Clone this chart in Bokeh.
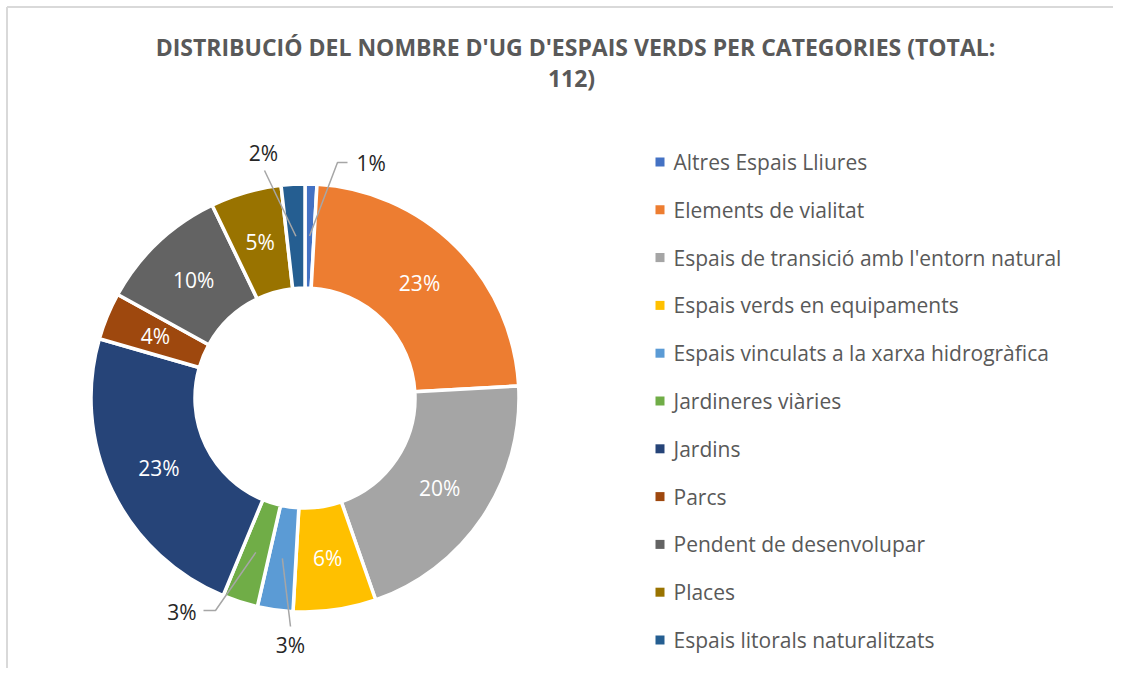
import numpy as np
from bokeh.plotting import figure
from bokeh.models import Range1d, ColumnDataSource
from bokeh.core.properties import value
from bokeh.embed import file_html
from bokeh.resources import INLINE

# ---------------- data ----------------
categories = [
    "Altres Espais Lliures",
    "Elements de vialitat",
    "Espais de transició amb l'entorn natural",
    "Espais verds en equipaments",
    "Espais vinculats a la xarxa hidrogràfica",
    "Jardineres viàries",
    "Jardins",
    "Parcs",
    "Pendent de desenvolupar",
    "Places",
    "Espais litorals naturalitzats",
]
counts = [1, 26, 23, 7, 3, 3, 26, 4, 11, 6, 2]
pct_labels = ["1%", "23%", "20%", "6%", "3%", "3%", "23%", "4%", "10%", "5%", "2%"]
colors = ["#4472C4", "#ED7D31", "#A5A5A5", "#FFC000", "#5B9BD5", "#70AD47",
          "#264478", "#9E480E", "#636363", "#997300", "#255E91"]
title_lines = ["DISTRIBUCIÓ DEL NOMBRE D'UG D'ESPAIS VERDS PER CATEGORIES (TOTAL:", "112)"]

# ---------------- layout ----------------
W, H = 1113, 668
FONT = "Open Sans"


def X(xi):
    return xi


def Y(yi):
    return H - yi


cx, cy = X(304.5), Y(397.5)
r_out, r_in = 214, 110
r_mid = (r_out + r_in) / 2

p = figure(width=W, height=H, x_range=Range1d(0, W), y_range=Range1d(0, H),
           output_backend="svg", toolbar_location=None, min_border=0,
           x_axis_type=None, y_axis_type=None)
p.grid.visible = False
p.outline_line_color = None
p.background_fill_color = "white"
p.border_fill_color = "white"

# chart-area border (top and left edges visible in reference)
p.segment(x0=[X(6.5), X(6.5)], y0=[Y(6.5), Y(6.5)], x1=[W, X(6.5)], y1=[Y(6.5), 0],
          line_color="#D9D9D9", line_width=2)

# ---------------- donut ----------------
vals = np.array(counts, dtype=float)
frac = vals / vals.sum()
cum_end = np.cumsum(frac)
cum_start = cum_end - frac
start_angle = np.pi / 2 - 2 * np.pi * cum_end
end_angle = np.pi / 2 - 2 * np.pi * cum_start
mid_angle = np.pi / 2 - 2 * np.pi * (cum_start + frac / 2)

src = ColumnDataSource(dict(x=[cx] * len(vals), y=[cy] * len(vals),
                            start=start_angle, end=end_angle, color=colors,
                            cat=categories))
p.annular_wedge(x="x", y="y", inner_radius=r_in, outer_radius=r_out,
                start_angle="start", end_angle="end", fill_color="color",
                line_color="white", line_width=3.5, source=src)

ax = cx + r_mid * np.cos(mid_angle)
ay = cy + r_mid * np.sin(mid_angle)

outside = {0, 4, 5, 10}
inside_idx = [i for i in range(len(vals)) if i not in outside]
p.text(x=[ax[i] for i in inside_idx], y=[ay[i] for i in inside_idx],
       text=[pct_labels[i] for i in inside_idx], text_color="white",
       text_font=value(FONT), text_font_size="21px",
       text_align="center", text_baseline="middle")

# leader lines for small slices (waypoints are layout positions)
leaders = {
    0: ([X(337), X(347)], [Y(162), Y(162)]),
    10: ([X(264)], [Y(170)]),
    5: ([X(215), X(203)], [Y(610), Y(610)]),
    4: ([X(290)], [Y(626)]),
}
xs, ys = [], []
for i, (lx, ly) in leaders.items():
    xs.append([ax[i]] + lx)
    ys.append([ay[i]] + ly)
p.multi_line(xs=xs, ys=ys, line_color="#A6A6A6", line_width=1.5)

out_pos = {
    0: (X(356), Y(162), "left"),
    10: (X(263), Y(152), "center"),
    5: (X(196), Y(611), "right"),
    4: (X(290), Y(644), "center"),
}
for i, (tx, ty, al) in out_pos.items():
    p.text(x=[tx], y=[ty], text=[pct_labels[i]], text_color="#262626",
           text_font=value(FONT), text_font_size="21px",
           text_align=al, text_baseline="middle")

# ---------------- title ----------------
p.text(x=[X(575), X(571)], y=[Y(46), Y(77)], text=title_lines,
       text_color="#595959", text_font=value(FONT), text_font_size="23px",
       text_font_style="bold", text_align="center", text_baseline="middle")

# ---------------- legend ----------------
row0, step = 161.5, 47.8
ly = [Y(row0 + k * step) for k in range(len(categories))]
p.scatter(x=[X(659.5)] * len(categories), y=ly, marker="square", size=9,
          fill_color=colors, line_color=None)
p.text(x=[X(673)] * len(categories), y=ly, text=categories,
       text_color="#595959", text_font=value(FONT), text_font_size="21px",
       text_align="left", text_baseline="middle")

open("out.html", "w").write(file_html(p, INLINE))
